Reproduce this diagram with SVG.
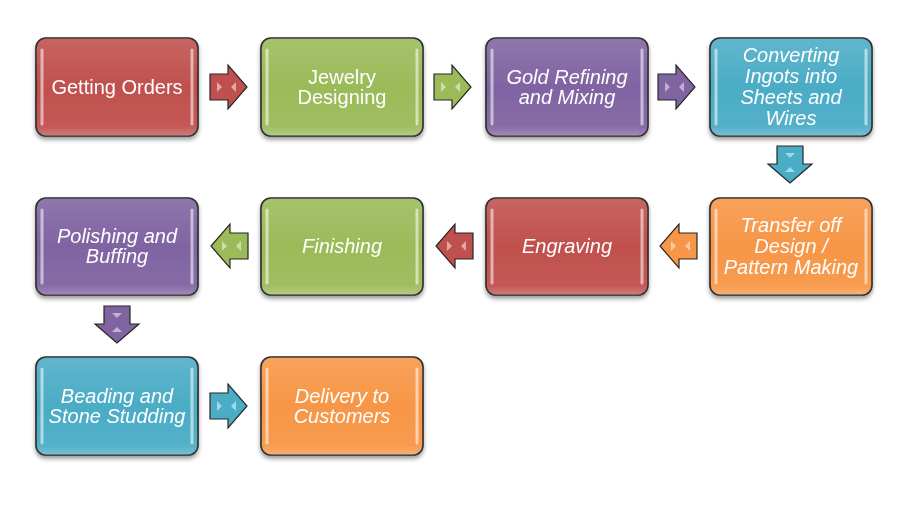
<svg xmlns="http://www.w3.org/2000/svg" width="917" height="524" viewBox="0 0 917 524">
<defs>
<style>
.box{stroke:#262626;stroke-width:1.6}
.gloss{fill:url(#gl)}
.hl{fill:none;stroke:#fff;stroke-width:3;stroke-linecap:round;opacity:0.55}
.t{font-family:"Liberation Sans",Arial,sans-serif;font-size:20px;fill:#fff;text-anchor:middle}
.i{font-style:italic}
.arr{stroke:#262626;stroke-width:1.2}
.mk{fill:#fff;opacity:0.5}
.red{fill:#C0504D}.green{fill:#9BBB59}.purple{fill:#8064A2}.blue{fill:#4BACC6}.orange{fill:#F79646}
</style>
<linearGradient id="gl" x1="0" y1="0" x2="0" y2="1">
<stop offset="0" stop-color="#fff" stop-opacity="0.12"/>
<stop offset="0.5" stop-color="#fff" stop-opacity="0"/>
<stop offset="0.9" stop-color="#fff" stop-opacity="0.05"/>
<stop offset="1" stop-color="#fff" stop-opacity="0.25"/>
</linearGradient>
<filter id="sh" x="-10%" y="-10%" width="120%" height="130%">
<feGaussianBlur in="SourceAlpha" stdDeviation="2"/>
<feOffset dx="0" dy="3"/>
<feComponentTransfer><feFuncA type="linear" slope="0.4"/></feComponentTransfer>
<feMerge><feMergeNode/><feMergeNode in="SourceGraphic"/></feMerge>
</filter>
<g id="rarrow">
<path class="arr" d="M0,9 H18 V0 L37,22 L18,44 V35 H0 Z"/>
<path class="mk" d="M7,17 L12,22 L7,27 Z"/>
<path class="mk" d="M26,17 L21,22 L26,27 Z"/>
</g>
</defs>
<rect width="917" height="524" fill="#fff"/>

<g id="connectors">
<use href="#rarrow" class="red" x="210" y="65"/>
<use href="#rarrow" class="green" x="434" y="65"/>
<use href="#rarrow" class="purple" x="658" y="65"/>
<use href="#rarrow" class="blue" transform="translate(812,146) rotate(90)"/>
<use href="#rarrow" class="orange" transform="translate(697,268) rotate(180)"/>
<use href="#rarrow" class="red" transform="translate(473,268) rotate(180)"/>
<use href="#rarrow" class="green" transform="translate(248,268) rotate(180)"/>
<use href="#rarrow" class="purple" transform="translate(139,306) rotate(90)"/>
<use href="#rarrow" class="blue" x="210" y="384"/>
</g>

<g id="n1" filter="url(#sh)">
<rect class="box red" x="36" y="38" width="162" height="98" rx="10"/>
<rect class="gloss" x="36" y="38" width="162" height="98" rx="10"/>
<path class="hl" d="M42,50 V124 M192,50 V124"/>
<text class="t" x="117" y="94">Getting Orders</text>
</g>
<g id="n2" filter="url(#sh)">
<rect class="box green" x="261" y="38" width="162" height="98" rx="10"/>
<rect class="gloss" x="261" y="38" width="162" height="98" rx="10"/>
<path class="hl" d="M267,50 V124 M417,50 V124"/>
<text class="t" x="342" y="84">Jewelry</text>
<text class="t" x="342" y="104">Designing</text>
</g>
<g id="n3" filter="url(#sh)">
<rect class="box purple" x="486" y="38" width="162" height="98" rx="10"/>
<rect class="gloss" x="486" y="38" width="162" height="98" rx="10"/>
<path class="hl" d="M492,50 V124 M642,50 V124"/>
<text class="t i" x="567" y="84">Gold Refining</text>
<text class="t i" x="567" y="104">and Mixing</text>
</g>
<g id="n4" filter="url(#sh)">
<rect class="box blue" x="710" y="38" width="162" height="98" rx="10"/>
<rect class="gloss" x="710" y="38" width="162" height="98" rx="10"/>
<path class="hl" d="M716,50 V124 M866,50 V124"/>
<text class="t i" x="791" y="62">Converting</text>
<text class="t i" x="791" y="83">Ingots into</text>
<text class="t i" x="791" y="104">Sheets and</text>
<text class="t i" x="791" y="125">Wires</text>
</g>

<g id="n5" filter="url(#sh)">
<rect class="box orange" x="710" y="198" width="162" height="97" rx="10"/>
<rect class="gloss" x="710" y="198" width="162" height="97" rx="10"/>
<path class="hl" d="M716,210 V283 M866,210 V283"/>
<text class="t i" x="791" y="232">Transfer off</text>
<text class="t i" x="791" y="253">Design /</text>
<text class="t i" x="791" y="274">Pattern Making</text>
</g>
<g id="n6" filter="url(#sh)">
<rect class="box red" x="486" y="198" width="162" height="97" rx="10"/>
<rect class="gloss" x="486" y="198" width="162" height="97" rx="10"/>
<path class="hl" d="M492,210 V283 M642,210 V283"/>
<text class="t i" x="567" y="253">Engraving</text>
</g>
<g id="n7" filter="url(#sh)">
<rect class="box green" x="261" y="198" width="162" height="97" rx="10"/>
<rect class="gloss" x="261" y="198" width="162" height="97" rx="10"/>
<path class="hl" d="M267,210 V283 M417,210 V283"/>
<text class="t i" x="342" y="253">Finishing</text>
</g>
<g id="n8" filter="url(#sh)">
<rect class="box purple" x="36" y="198" width="162" height="97" rx="10"/>
<rect class="gloss" x="36" y="198" width="162" height="97" rx="10"/>
<path class="hl" d="M42,210 V283 M192,210 V283"/>
<text class="t i" x="117" y="243">Polishing and</text>
<text class="t i" x="117" y="263">Buffing</text>
</g>

<g id="n9" filter="url(#sh)">
<rect class="box blue" x="36" y="357" width="162" height="98" rx="10"/>
<rect class="gloss" x="36" y="357" width="162" height="98" rx="10"/>
<path class="hl" d="M42,369 V443 M192,369 V443"/>
<text class="t i" x="117" y="403">Beading and</text>
<text class="t i" x="117" y="423">Stone Studding</text>
</g>
<g id="n10" filter="url(#sh)">
<rect class="box orange" x="261" y="357" width="162" height="98" rx="10"/>
<rect class="gloss" x="261" y="357" width="162" height="98" rx="10"/>
<path class="hl" d="M267,369 V443 M417,369 V443"/>
<text class="t i" x="342" y="403">Delivery to</text>
<text class="t i" x="342" y="423">Customers</text>
</g>
</svg>
